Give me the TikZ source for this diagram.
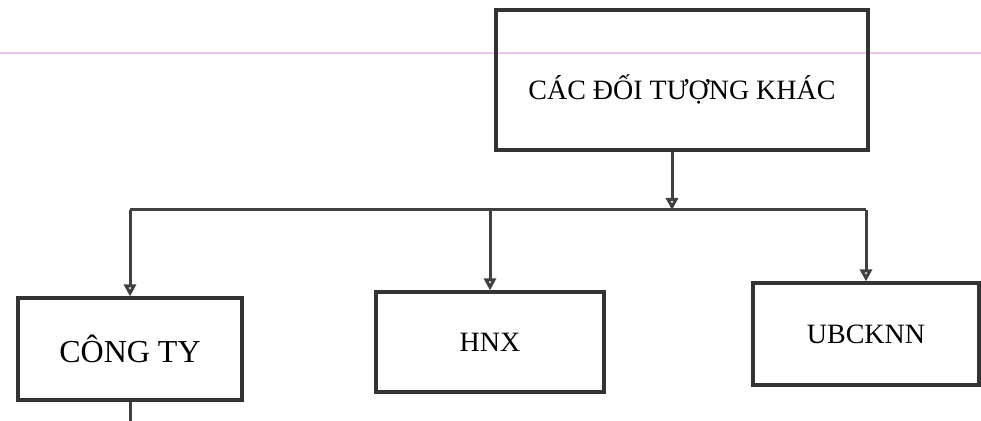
\documentclass[tikz,border=0pt]{standalone}
\usepackage{fontspec}
\setmainfont{Liberation Serif}
\usetikzlibrary{arrows.meta,positioning}
\definecolor{rulepink}{RGB}{240,200,238}

\begin{document}
\begin{tikzpicture}[x=0.5pt,y=-0.5pt,
    box/.style={draw=black!80,line width=1.6pt,inner sep=0pt,
                font=\fontsize{14}{16}\selectfont},
    link/.style={draw=black!75,line width=1.5pt},
    tip/.style={-{Triangle[open,length=6pt,width=6pt]}}]
\useasboundingbox (0,0) rectangle (981,421);
% ruled paper line
\draw[rulepink,line width=1.2pt] (0,53) -- (981,53);
%
\node (top) [box,minimum width=186pt,minimum height=70pt] at (682,80) {};
\node (toptext) [font=\fontsize{14}{16}\selectfont] at (682,89) {CÁC ĐỐI TƯỢNG KHÁC};
\node (cty) [box,minimum width=112pt,minimum height=51pt,
             font=\fontsize{16}{18}\selectfont] at (130,349) {CÔNG TY};
\node (hnx) [box,minimum width=114pt,minimum height=50pt] at (490,342) {HNX};
\node (ub)  [box,minimum width=113pt,minimum height=51pt] at (866,334) {UBCKNN};
%
\coordinate (bus) at (672,210);
\coordinate (out) at (130,421);
%
\draw[link,tip] (bus |- top.south) -- (bus);
\draw[link] (cty.north |- bus) -- (ub.north |- bus);
\foreach \b in {cty,hnx,ub}
    \draw[link,tip] (\b.north |- bus) -- (\b.north);
\draw[link] (cty.south) -- (out);
\end{tikzpicture}
\end{document}
